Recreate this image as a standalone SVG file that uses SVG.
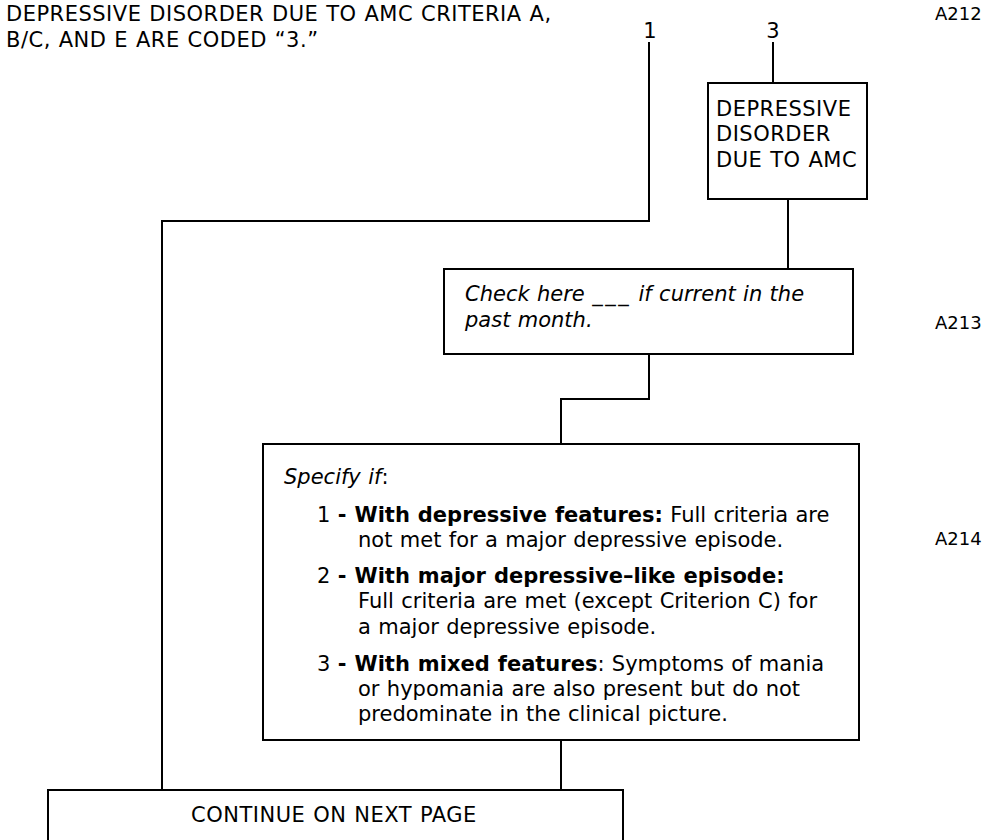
<svg xmlns="http://www.w3.org/2000/svg" width="1001" height="840" viewBox="0 0 1001 840">
<style>
text{font-family:"DejaVu Sans",Verdana,"Liberation Sans",sans-serif;font-size:21px;fill:#000;word-spacing:0.7px}
.code{font-size:18px;word-spacing:0}
.caps{letter-spacing:0.5px}
.i{font-style:italic}
.b{font-weight:bold}
.us{letter-spacing:2.5px}
.box{fill:#fff;stroke:#000;stroke-width:2}
.ln{fill:none;stroke:#000;stroke-width:2}
</style>
<rect width="1001" height="840" fill="#fff"/>
<g id="connectors">
<path class="ln" d="M649,42 V221 H162 V790"/>
<path class="ln" d="M773,42 V83"/>
<path class="ln" d="M788,199 V269"/>
<path class="ln" d="M649,354 V399 H561 V444"/>
<path class="ln" d="M561,740 V790"/>
</g>
<g id="header">
<text class="caps" x="6" y="21">DEPRESSIVE DISORDER DUE TO AMC CRITERIA A,</text>
<text class="caps" x="6" y="47">B/C, AND E ARE CODED “3.”</text>
<text x="650" y="38" text-anchor="middle">1</text>
<text x="773" y="38" text-anchor="middle">3</text>
<text class="code" x="935" y="20">A212</text>
<text class="code" x="935" y="329">A213</text>
<text class="code" x="935" y="545">A214</text>
</g>
<g id="node-dd">
<rect class="box" x="708" y="83" width="159" height="116"/>
<text class="caps" x="716" y="116">DEPRESSIVE</text>
<text class="caps" x="716" y="141">DISORDER</text>
<text class="caps" x="716" y="167">DUE TO AMC</text>
</g>
<g id="node-check">
<rect class="box" x="444" y="269" width="409" height="85"/>
<text class="i" x="465" y="301">Check here <tspan class="us">___</tspan> if current in the</text>
<text class="i" x="465" y="327">past month.</text>
</g>
<g id="node-specify">
<rect class="box" x="263" y="444" width="596" height="296"/>
<text x="284" y="484"><tspan class="i">Specify if</tspan>:</text>
<text x="317" y="522">1 <tspan class="b">- With depressive features:</tspan> Full criteria are</text>
<text x="358" y="547">not met for a major depressive episode.</text>
<text x="317" y="583">2 <tspan class="b">- With major depressive–like episode:</tspan></text>
<text x="358" y="608">Full criteria are met (except Criterion C) for</text>
<text x="358" y="634">a major depressive episode.</text>
<text x="317" y="671">3 <tspan class="b">- With mixed features</tspan>: Symptoms of mania</text>
<text x="358" y="696">or hypomania are also present but do not</text>
<text x="358" y="721">predominate in the clinical picture.</text>
</g>
<g id="node-continue">
<rect class="box" x="48" y="790" width="575" height="70"/>
<text class="caps" x="334" y="822" text-anchor="middle">CONTINUE ON NEXT PAGE</text>
</g>
</svg>
